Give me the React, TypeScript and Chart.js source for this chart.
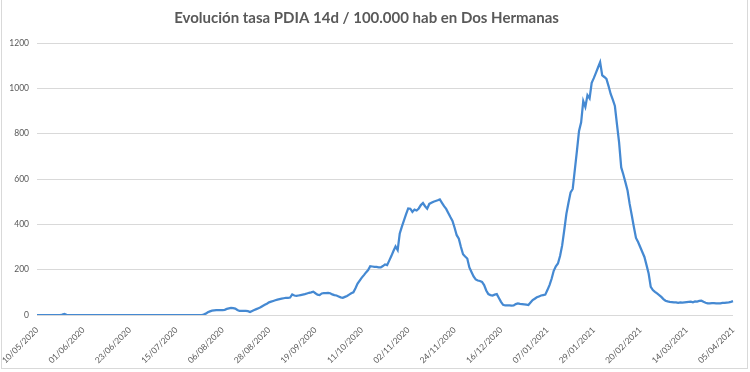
import React, { useEffect, useRef } from "react";
import { Chart, registerables } from "chart.js";

Chart.register(...registerables);

const TITLE = "Evolución tasa PDIA 14d / 100.000 hab en Dos Hermanas";
const START_DATE = [2020, 5, 10]; // 10/05/2020
const LABEL_EVERY = 22;
const Y_TICKS = [0, 200, 400, 600, 800, 1000, 1200];

// daily 14-day PDIA rate per 100,000 inhabitants (10/05/2020 .. 05/04/2021)
const tasaPDIA: number[] = [
  0, 0, 0, 0, 0, 0, 0, 0, 0, 0, 0, 0, 2, 5, 1,
  0, 0, 0, 0, 0, 0, 0, 0, 0, 0, 0, 0, 0, 0, 0, 0,
  0, 0, 0, 0, 0, 0, 0, 0, 0, 0, 0, 0, 0, 0, 0, 0,
  0, 0, 0, 0, 0, 0, 0, 0, 0, 0, 0, 0, 0, 0, 0, 0,
  0, 0, 0, 0, 0, 0, 0, 0, 0, 0, 0, 0, 0, 0, 0, 0,
  2, 6, 12, 16, 19, 20, 21, 22, 22, 22,
  23, 27, 29, 31, 30, 28, 22, 18, 18, 18,
  18, 17, 13, 18, 22, 26, 30, 34, 40, 45,
  50, 56, 59, 62, 65, 68, 70, 72, 74, 76,
  76, 77, 91, 86, 84, 86, 88, 90, 92, 95,
  98, 100, 103, 96, 90, 88, 95, 96, 97, 98,
  96, 91, 88, 86, 82, 78, 76, 80, 84, 90,
  96, 100, 118, 139, 152, 165, 176, 188, 198, 215,
  214, 212, 212, 210, 210, 216, 223, 220, 240, 260,
  282, 302, 286, 360, 390, 417, 445, 470, 469, 455,
  465, 461, 470, 485, 494, 480, 469, 490, 495, 500,
  503, 506, 510, 495, 480, 468, 450, 432, 415, 385,
  352, 337, 300, 268, 258, 249, 210, 190, 170, 157,
  152, 150, 146, 132, 108, 92, 88, 86, 90, 92,
  75, 58, 45, 42, 42, 42, 41, 42, 48, 51,
  49, 48, 47, 46, 44, 55, 66, 72, 78, 82,
  86, 88, 90, 110, 132, 160, 195, 215, 227, 260,
  307, 375, 446, 495, 541, 556, 640, 724, 812, 850,
  944, 918, 970, 956, 1024, 1045, 1068, 1092, 1115, 1057,
  1050, 1042, 1010, 975, 950, 922, 840, 760, 651, 620,
  585, 549, 490, 440, 388, 340, 322, 300, 278, 256,
  220, 183, 124, 110, 102, 95, 88, 80, 70, 63,
  60, 58, 57, 56, 56, 54, 56, 55, 56, 57,
  58, 59, 56, 60, 59, 62, 63, 58, 54, 51,
  51, 52, 52, 51, 51, 51, 53, 54, 55, 56,
  58, 61,
];

function buildDates(n: number): string[] {
  const out: string[] = [];
  const base = Date.UTC(START_DATE[0], START_DATE[1] - 1, START_DATE[2]);
  for (let i = 0; i < n; i++) {
    const d = new Date(base + i * 86400000);
    const dd = String(d.getUTCDate()).padStart(2, "0");
    const mm = String(d.getUTCMonth() + 1).padStart(2, "0");
    out.push(`${dd}/${mm}/${d.getUTCFullYear()}`);
  }
  return out;
}

const dates = buildDates(tasaPDIA.length);

export default function App() {
  const ref = useRef<HTMLCanvasElement>(null);

  useEffect(() => {
    document.body.style.margin = "0";
    const canvas = ref.current;
    if (!canvas) return;
    const chart = new Chart(canvas, {
      type: "line",
      data: {
        labels: dates,
        datasets: [
          {
            data: tasaPDIA,
            borderColor: "#4589d2",
            borderWidth: 2.25,
            pointRadius: 0,
            tension: 0,
            fill: false,
          },
        ],
      },
      options: {
        responsive: false,
        animation: false,
        devicePixelRatio: 1,
        layout: { padding: { left: 0, right: 17, top: 0, bottom: 0 } },
        plugins: {
          legend: { display: false },
          tooltip: { enabled: false },
          title: {
            display: true,
            text: TITLE,
            color: "#595959",
            font: { family: "Lato", size: 15, weight: "bold" },
            padding: { top: 9.5, bottom: 15.5 },
          },
        },
        scales: {
          x: {
            grid: { display: false },
            border: { display: false },
            ticks: {
              autoSkip: false,
              minRotation: 45,
              maxRotation: 45,
              color: "#595959",
              font: { family: "Lato", size: 8.5 },
              padding: 2,
              callback: (_v: any, i: number) =>
                i % LABEL_EVERY === 0 ? dates[i] : null,
            },
            afterFit: (s: any) => {
              s.height = 57;
            },
          },
          y: {
            min: 0,
            max: 1200,
            afterBuildTicks: (s: any) => {
              s.ticks = Y_TICKS.map((v) => ({ value: v }));
            },
            grid: { color: "#d9d9d9", lineWidth: 1, drawTicks: false },
            border: { display: false },
            ticks: {
              color: "#595959",
              font: { family: "Lato", size: 8.5 },
              padding: 8,
              callback: (v: any) => String(v),
            },
            afterFit: (s: any) => {
              s.width = 37;
            },
          },
        },
      },
    });
    return () => chart.destroy();
  }, []);

  return (
    <div style={{ position: "relative", width: 750, height: 372, background: "#fff" }}>
      <canvas ref={ref} width={750} height={372} style={{ display: "block" }} />
      <div
        style={{
          position: "absolute",
          left: 1,
          top: -1,
          width: 745,
          height: 369,
          borderLeft: "1px solid #d9d9d9",
          borderRight: "1px solid #d9d9d9",
          borderBottom: "1px solid #d9d9d9",
          pointerEvents: "none",
        }}
      />
    </div>
  );
}
